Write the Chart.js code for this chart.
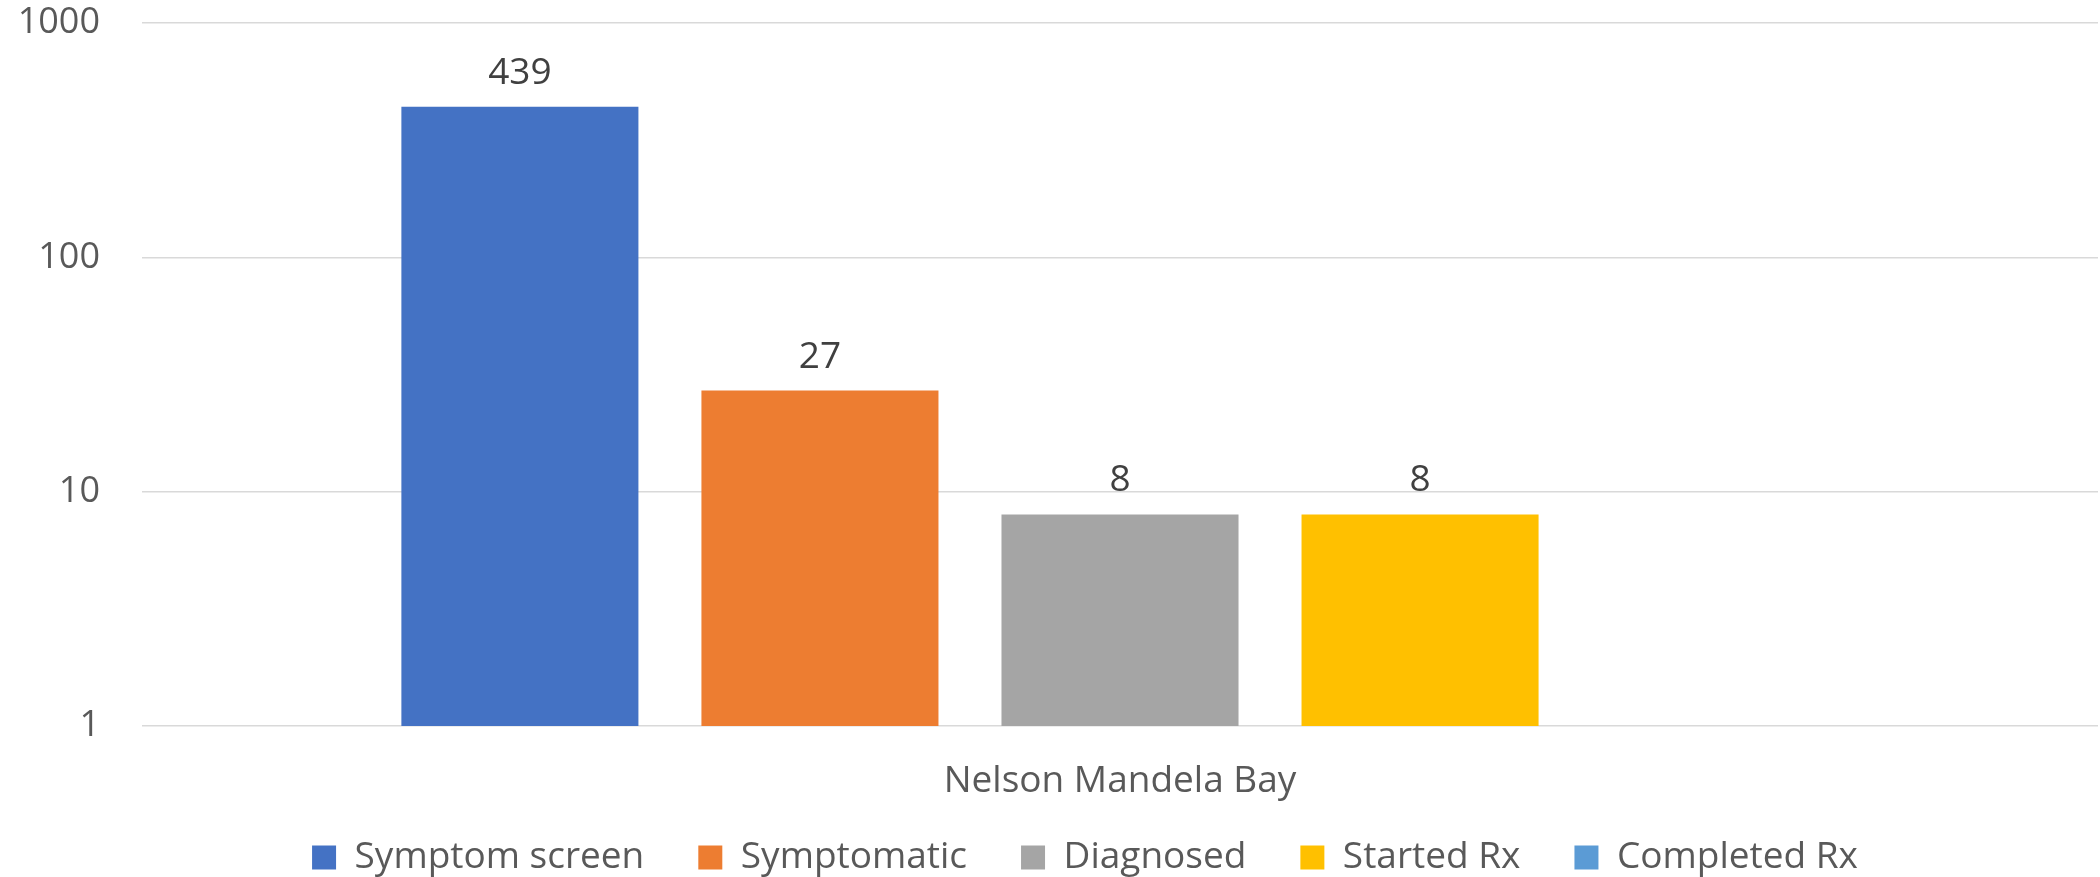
<!DOCTYPE html>
<html>
<head>
<meta charset="utf-8">
<script src="https://cdn.jsdelivr.net/npm/chart.js@4/dist/chart.umd.min.js"></script>
<style>
  body { margin: 0; background: #fff; }
  #wrap { width: 2100px; height: 877px; }
</style>
</head>
<body>
<div id="wrap"><canvas id="chart" width="2100" height="877"></canvas></div>
<script>
const categories = ['Nelson Mandela Bay'];
const seriesNames = ['Symptom screen', 'Symptomatic', 'Diagnosed', 'Started Rx', 'Completed Rx'];
const seriesValues = [[439], [27], [8], [8], [null]];
const seriesColors = ['#4472C4', '#ED7D31', '#A5A5A5', '#FFC000', '#5B9BD5'];
const yTicks = [1, 10, 100, 1000];

const FONT = '"Open Sans", sans-serif';

// value labels above each bar
const valueLabels = {
  id: 'valueLabels',
  afterDatasetsDraw(chart) {
    const ctx = chart.ctx;
    ctx.save();
    ctx.font = '37px ' + FONT;
    ctx.fillStyle = '#404040';
    ctx.textAlign = 'center';
    ctx.textBaseline = 'alphabetic';
    chart.data.datasets.forEach((ds, i) => {
      chart.getDatasetMeta(i).data.forEach((bar, j) => {
        const v = ds.data[j];
        if (v == null) return;
        ctx.fillText(String(v), bar.x, bar.y - 23);
      });
    });
    ctx.restore();
  }
};

// nudge the legend row right, and let the x label overflow its box
const layoutTweaks = {
  id: 'layoutTweaks',
  afterLayout(chart) {
    chart.legend.left += 36;
    chart.legend.right += 36;
    chart.scales.x.bottom = chart.height;
  }
};

const ctx = document.getElementById('chart').getContext('2d');
new Chart(ctx, {
  type: 'bar',
  data: {
    labels: categories,
    datasets: seriesNames.map((name, i) => ({
      label: name,
      data: seriesValues[i],
      backgroundColor: seriesColors[i],
      borderWidth: 0,
      barPercentage: 0.79,
      categoryPercentage: 0.767
    }))
  },
  options: {
    responsive: false,
    animation: false,
    layout: { padding: { top: 23, right: 2, left: 0, bottom: -9 } },
    plugins: {
      legend: {
        position: 'bottom',
        labels: {
          boxWidth: 24,
          boxHeight: 24,
          padding: 54,
          color: '#595959',
          font: { family: FONT, size: 37 }
        }
      },
      tooltip: { enabled: false }
    },
    scales: {
      x: {
        grid: { display: false },
        border: { display: false },
        ticks: { color: '#595959', font: { family: FONT, size: 37 }, padding: 25 },
        afterFit: (s) => { s.height = 59; }
      },
      y: {
        type: 'logarithmic',
        min: 1,
        max: 1000,
        afterBuildTicks: (scale) => { scale.ticks = yTicks.map(v => ({ value: v })); },
        afterFit: (s) => { s.width = 142; s.paddingTop = 0; s.paddingBottom = 0; },
        grid: { color: '#D9D9D9', lineWidth: 1.5, drawTicks: false },
        border: { display: false },
        ticks: {
          color: '#595959',
          font: { family: FONT, size: 36 },
          padding: 42,
          callback: (v) => String(v)
        }
      }
    }
  },
  plugins: [valueLabels, layoutTweaks]
});
</script>
</body>
</html>
